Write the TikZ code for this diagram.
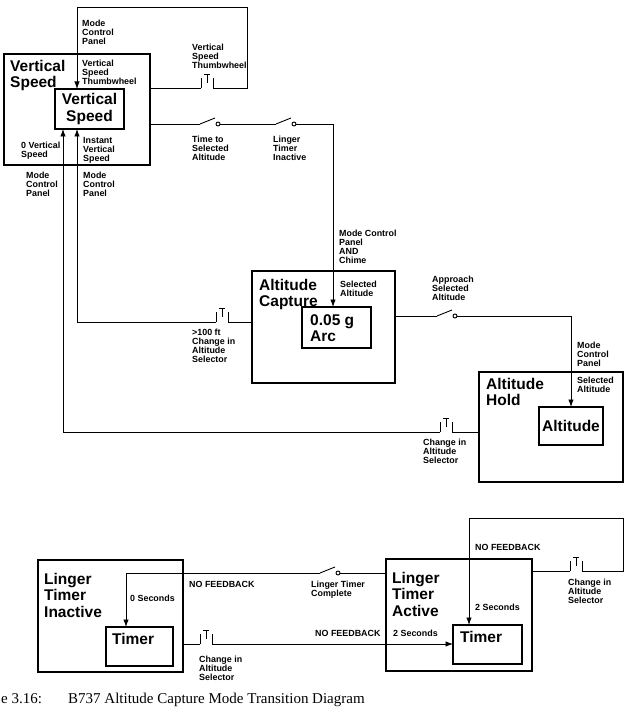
\documentclass[tikz,border=0pt]{standalone}
\usepackage{fontspec}
\usepackage{tikz}
\usetikzlibrary{arrows.meta,calc,positioning}
\newfontfamily\hvfont{Liberation Sans}
\newfontfamily\tmfont{Liberation Serif}

\tikzset{
  modebox/.style={draw, line width=1.8pt, inner sep=0pt, outer sep=0pt, anchor=north west},
  valbox/.style={modebox, font=\hvfont\bfseries\fontsize{15.5}{16.5}\selectfont, align=center},
  head/.style={font=\hvfont\bfseries\fontsize{15.5}{16.5}\selectfont, align=left, inner sep=0pt, anchor=north west},
  lbl/.style={font=\hvfont\bfseries\fontsize{8.9}{9}\selectfont, align=left, inner sep=0pt, anchor=north west},
  wire/.style={line width=0.9pt},
  feed/.style={wire, -{Latex[length=7.5pt,width=5.5pt]}},
  pics/opensw/.style={code={
    \draw[wire] (0,0) -- (15,-6);
    \draw[wire, fill=white] (18,0) circle (2pt);
    \coordinate (-in) at (0,0);
    \coordinate (-out) at (20,0);
  }},
  pics/pushbtn/.style={code={
    \draw[wire] (0,0) -- (0,-10) (12,-10) -- (12,0);
    \draw[wire] (3,-14) -- (9,-14) (6,-14) -- (6,-5);
    \coordinate (-in) at (0,0);
    \coordinate (-out) at (12,0);
  }},
}

\begin{document}
\begin{tikzpicture}[x=1pt, y=-1pt]
\useasboundingbox (0,0) rectangle (627,708);

% --- modi e registri ---
\node[modebox, minimum width=146pt, minimum height=111pt] (vsout) at (4,54) {};
\node[valbox, minimum width=69pt, minimum height=40pt] (vsin) at (55,89) {Vertical\\Speed};
\node[modebox, minimum width=143pt, minimum height=112pt] (altcap) at (252,271) {};
\node[modebox, minimum width=69pt, minimum height=41pt] (arcbox) at (302,307) {};
\node[modebox, minimum width=144pt, minimum height=110pt] (althold) at (479,372) {};
\node[valbox, minimum width=64pt, minimum height=38pt] (altbox) at (539,407) {Altitude};
\node[modebox, minimum width=145pt, minimum height=112pt] (ltin) at (38,560) {};
\node[modebox, minimum width=67pt, minimum height=39pt] (timer1) at (106,627) {};
\node[modebox, minimum width=146pt, minimum height=112pt] (ltact) at (386,559) {};
\node[modebox, minimum width=69pt, minimum height=39pt] (timer2) at (453,625) {};

\node[head] (vshead) at (10,60) {Vertical\\Speed};
\node[head] (achead) at (259,279) {Altitude\\Capture};
\node[head] (arctext) at (310,314) {0.05 g\\Arc};
\node[head] (ahhead) at (486,378) {Altitude\\Hold};
\node[head] (ltinhead) at (44,573) {Linger\\Timer\\Inactive};
\node[head] (timer1text) at (112,633) {Timer};
\node[head] (ltacthead) at (392,572) {Linger\\Timer\\Active};
\node[head] (timer2text) at (460,631) {Timer};

% --- interruttori ---
\pic (tw) at (201,88) {pushbtn};
\pic (swa) at (200,124) {opensw};
\pic (swb) at (276,124) {opensw};
\pic (pb100) at (216,322) {pushbtn};
\pic (swc) at (437,316) {opensw};
\pic (pbah) at (440,432) {pushbtn};
\pic (swd) at (320,573) {opensw};
\pic (pbli) at (200,644) {pushbtn};
\pic (pbla) at (570,571) {pushbtn};

\coordinate (twc1) at (247,7);
\coordinate (twc2) at (77,7);
\coordinate (tsc) at (333,124);
\coordinate (c100) at (77,322);
\coordinate (cap) at (571,316);
\coordinate (cah) at (63,432);
\coordinate (clt) at (126,573);
\coordinate (cla1) at (623,518);
\coordinate (cla2) at (469,518);

% --- transizioni ---
\draw[wire] (vsout.east |- tw-in) -- (tw-in);
\draw[feed] (tw-out) -| (twc1) -- (twc2) -- (twc2 |- vsin.north);
\draw[wire] (vsout.east |- swa-in) -- (swa-in);
\draw[wire] (swa-out) -- (swb-in);
\draw[feed] (swb-out) -- (tsc) -- (tsc |- arcbox.north);
\draw[wire] (altcap.west |- pb100-out) -- (pb100-out);
\draw[feed] (pb100-in) -- (c100) -- (c100 |- vsin.south);
\draw[wire] (altcap.east |- swc-in) -- (swc-in);
\draw[feed] (swc-out) -- (cap) -- (cap |- altbox.north);
\draw[wire] (althold.west |- pbah-out) -- (pbah-out);
\draw[feed] (pbah-in) -- (cah) -- (cah |- vsin.south);

\draw[wire] (ltact.west |- swd-out) -- (swd-out);
\draw[feed] (swd-in) -- (clt) -- (clt |- timer1.north);
\draw[wire] (ltin.east |- pbli-in) -- (pbli-in);
\draw[feed] (pbli-out) -- (pbli-out -| timer2.west);
\draw[wire] (ltact.east |- pbla-in) -- (pbla-in);
\draw[feed] (pbla-out) -| (cla1) -- (cla2) -- (cla2 |- timer2.north);

% --- etichette ---
\node[lbl] (mcpA) at (82,20) {Mode\\Control\\Panel};
\node[lbl] (vstwA) at (82,60) {Vertical\\Speed\\Thumbwheel};
\node[lbl] (vstwB) at (192,44) {Vertical\\Speed\\Thumbwheel};
\node[lbl] (zerovs) at (21,142) {0 Vertical\\Speed};
\node[lbl] (instvs) at (83,137) {Instant\\Vertical\\Speed};
\node[lbl] (mcpB) at (26,172) {Mode\\Control\\Panel};
\node[lbl] (mcpC) at (83,172) {Mode\\Control\\Panel};
\node[lbl] (ttsa) at (192,136) {Time to\\Selected\\Altitude};
\node[lbl] (ltinact) at (273,136) {Linger\\Timer\\Inactive};
\node[lbl] (mcpchime) at (339,230) {Mode Control\\Panel\\AND\\Chime};
\node[lbl] (selaltA) at (340,281) {Selected\\Altitude};
\node[lbl] (chg100) at (192,329) {>100 ft\\Change in\\Altitude\\Selector};
\node[lbl] (appr) at (432,276) {Approach\\Selected\\Altitude};
\node[lbl] (mcpD) at (577,342) {Mode\\Control\\Panel};
\node[lbl] (selaltB) at (577,377) {Selected\\Altitude};
\node[lbl] (chgA) at (423,439) {Change in\\Altitude\\Selector};

\node[lbl] (nofbA) at (189,581) {NO FEEDBACK};
\node[lbl] (zerosec) at (130,595) {0 Seconds};
\node[lbl] (ltcomp) at (311,581) {Linger Timer\\Complete};
\node[lbl] (nofbB) at (315,630) {NO FEEDBACK};
\node[lbl] (twosecA) at (393,630) {2 Seconds};
\node[lbl] (chgB) at (199,656) {Change in\\Altitude\\Selector};
\node[lbl] (nofbC) at (475,544) {NO FEEDBACK};
\node[lbl] (twosecB) at (475,604) {2 Seconds};
\node[lbl] (chgC) at (568,579) {Change in\\Altitude\\Selector};

% --- didascalia ---
\node[font=\tmfont\fontsize{15}{16}\selectfont, anchor=base west, inner sep=0pt] (capnum) at (1,703) {e 3.16:};
\node[font=\tmfont\fontsize{15}{16}\selectfont, anchor=base west, inner sep=0pt] (captext) at (68,703) {B737 Altitude Capture Mode Transition Diagram};
\end{tikzpicture}
\end{document}
